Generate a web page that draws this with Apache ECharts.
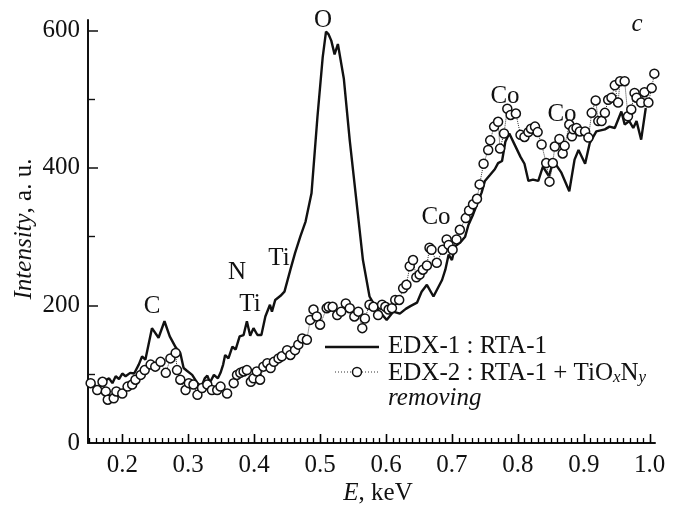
<!DOCTYPE html>
<html>
<head>
<meta charset="utf-8">
<script src="https://cdn.jsdelivr.net/npm/echarts@6/dist/echarts.min.js"></script>
<style>
html,body{margin:0;padding:0;background:#fff;}
#chart{width:674px;height:508px;}
</style>
</head>
<body>
<div id="chart"></div>
<script>
// ---- data (E in keV, intensity in a.u.) ----
const xTickLabels = [0.2, 0.3, 0.4, 0.5, 0.6, 0.7, 0.8, 0.9, 1.0];
const yTickLabels = [0, 200, 400, 600];
const yMinorTicks = [100, 300, 500];

// EDX-1 : RTA-1 (solid line)
const e1 = [0.149,0.158,0.165,0.172,0.180,0.185,0.190,0.195,0.200,0.205,0.212,0.218,0.225,0.230,0.235,0.245,0.255,0.264,0.272,0.281,0.288,0.293,0.298,0.306,0.314,0.320,0.325,0.329,0.333,0.339,0.345,0.349,0.353,0.356,0.361,0.367,0.372,0.378,0.384,0.389,0.394,0.399,0.405,0.411,0.417,0.424,0.427,0.432,0.440,0.446,0.455,0.462,0.470,0.478,0.487,0.496,0.504,0.509,0.513,0.517,0.522,0.527,0.536,0.545,0.555,0.565,0.575,0.581,0.591,0.601,0.611,0.621,0.630,0.637,0.647,0.654,0.662,0.672,0.685,0.690,0.695,0.700,0.705,0.712,0.720,0.725,0.732,0.738,0.745,0.750,0.758,0.765,0.770,0.776,0.781,0.787,0.794,0.804,0.810,0.816,0.823,0.831,0.838,0.847,0.854,0.866,0.878,0.886,0.892,0.902,0.909,0.919,0.932,0.939,0.947,0.957,0.962,0.969,0.975,0.980,0.987,0.994];
const i1 = [88,84,80,90,94,87,97,93,101,97,102,101,114,126,121,167,153,177,155,139,131,109,105,99,87,82,94,98,88,99,94,102,114,128,123,140,136,155,157,177,156,167,157,157,184,201,191,208,214,220,252,276,300,322,363,474,561,598,594,585,565,580,530,440,353,266,213,203,190,179,191,188,195,199,204,220,230,213,237,252,274,266,286,291,300,317,332,347,364,381,390,398,407,410,438,450,436,416,406,381,383,381,402,388,410,393,366,412,426,406,436,453,456,460,458,482,463,468,458,468,441,487];

// EDX-2 : RTA-1 + TiOxNy removing (circles, dotted)
const e2 = [0.152,0.162,0.170,0.175,0.178,0.187,0.191,0.200,0.208,0.215,0.220,0.228,0.234,0.243,0.250,0.258,0.266,0.273,0.281,0.283,0.288,0.296,0.301,0.308,0.314,0.321,0.329,0.336,0.344,0.349,0.359,0.369,0.374,0.379,0.384,0.389,0.395,0.399,0.404,0.409,0.414,0.420,0.425,0.430,0.437,0.442,0.450,0.455,0.462,0.467,0.473,0.480,0.485,0.490,0.495,0.500,0.510,0.513,0.519,0.526,0.532,0.539,0.545,0.552,0.558,0.564,0.568,0.575,0.581,0.588,0.594,0.599,0.604,0.609,0.614,0.620,0.626,0.631,0.636,0.641,0.646,0.651,0.656,0.662,0.666,0.669,0.677,0.686,0.692,0.695,0.701,0.707,0.712,0.721,0.726,0.732,0.738,0.742,0.748,0.755,0.758,0.764,0.770,0.773,0.779,0.784,0.789,0.797,0.804,0.810,0.816,0.820,0.826,0.830,0.836,0.843,0.848,0.853,0.856,0.863,0.868,0.871,0.878,0.882,0.884,0.889,0.894,0.902,0.907,0.912,0.918,0.922,0.927,0.932,0.937,0.942,0.947,0.952,0.955,0.962,0.967,0.972,0.977,0.980,0.987,0.992,0.998,1.003,1.007];
const i2 = [87,77,89,75,63,65,75,72,82,85,92,99,106,114,111,118,102,123,131,106,92,77,87,85,70,80,85,77,77,82,72,87,99,102,104,106,89,94,104,92,111,116,109,118,123,126,135,128,135,143,152,150,179,194,184,172,196,198,198,186,191,203,196,184,191,167,181,201,198,186,201,198,194,196,208,208,225,230,257,266,241,245,252,258,284,281,262,281,296,288,281,296,310,327,338,347,355,376,406,426,440,460,467,428,450,486,477,479,448,445,452,457,460,452,434,407,380,407,431,442,421,432,463,446,456,458,453,453,444,480,498,468,468,480,499,502,520,495,526,526,475,485,509,502,495,510,495,516,537];

// ---- build ----
const FONT = '"Liberation Serif","Times New Roman",serif';
const INK = '#111';
const X_MIN = 0.148, X_MAX = 1.008;
const data1 = e1.map((e, k) => [e, i1[k]]);
const data2 = e2.map((e, k) => [e, i2[k]]);
const xMinorTicks = [];
for (let k = 15; k <= 100; k++) { if (k % 10 !== 0) xMinorTicks.push(k / 100); }

const chart = echarts.init(document.getElementById('chart'), null, {renderer: 'canvas'});
const txt = (text, x, y, extra) => ({
  type: 'text', x: x, y: y,
  style: Object.assign({text: text, fill: INK, fontSize: 25, fontFamily: FONT, align: 'center', verticalAlign: 'middle'}, extra || {})
});

// custom series drawing x-axis ticks through the grid's scales
const tickSeries = (values, len, width) => ({
  type: 'custom', xAxisIndex: 0, yAxisIndex: 0, silent: true, clip: false, z: 10,
  data: values.map(v => [v, 0]),
  renderItem: function (params, api) {
    const p = api.coord([api.value(0), 0]);
    const x = Math.round(p[0]) + 0.5;
    return {type: 'line', shape: {x1: x, y1: p[1], x2: x, y2: p[1] - len},
      style: {stroke: '#000', lineWidth: width}};
  }
});

chart.setOption({
  animation: false,
  backgroundColor: '#fff',
  grid: {left: 88, right: 19, top: 20, bottom: 65, containLabel: false},
  xAxis: [{
    type: 'value', min: X_MIN, max: X_MAX, position: 'bottom',
    axisLine: {show: true, onZero: false, lineStyle: {color: INK, width: 2}},
    axisTick: {show: false},
    axisLabel: {show: true, customValues: xTickLabels, formatter: v => v.toFixed(1), fontSize: 25, fontFamily: FONT, color: INK, margin: 10},
    splitLine: {show: false}
  }],
  yAxis: [{
    type: 'value', min: 0, max: 615, position: 'left',
    axisLine: {show: true, onZero: false, lineStyle: {color: INK, width: 2}},
    axisTick: {show: true, inside: true, length: 10, customValues: yTickLabels, lineStyle: {color: INK, width: 1.5}},
    axisLabel: {show: true, customValues: yTickLabels, fontSize: 25, fontFamily: FONT, color: INK, margin: 8},
    splitLine: {show: false}
  }, {
    type: 'value', min: 0, max: 615, position: 'left',
    axisLine: {show: false, onZero: false},
    axisTick: {show: true, inside: true, length: 7, customValues: yMinorTicks, lineStyle: {color: INK, width: 1.4}},
    axisLabel: {show: false},
    splitLine: {show: false}
  }],
  series: [
    tickSeries(xTickLabels, 9, 1.6),
    tickSeries(xMinorTicks, 5, 1.3),
    {
      name: 'EDX-1 : RTA-1', type: 'line', xAxisIndex: 0, yAxisIndex: 0,
      data: data1, symbol: 'none', lineStyle: {color: INK, width: 2.4}, z: 2
    }, {
      name: 'EDX-2 : RTA-1 + TiOxNy removing', type: 'line', xAxisIndex: 0, yAxisIndex: 0,
      data: data2, symbol: 'circle', symbolSize: 9, showSymbol: true, clip: false,
      itemStyle: {color: '#fff', borderColor: INK, borderWidth: 1.5},
      lineStyle: {color: '#333', width: 1, type: 'dotted'}, z: 3
    }
  ],
  graphic: [
    // axis titles
    txt('{i|E}, keV', 378, 493, {rich: {i: {fontStyle: 'italic', fontSize: 25, fontFamily: FONT}}}),
    Object.assign(txt('{i|Intensity}, a. u.', 0, 0, {rich: {i: {fontStyle: 'italic', fontSize: 25, fontFamily: FONT}}}), {x: 24, y: 229, rotation: Math.PI / 2}),
    // peak annotations
    txt('O', 323, 20),
    txt('c', 637, 24, {fontStyle: 'italic'}),
    txt('C', 152, 306),
    txt('N', 237, 272),
    txt('Ti', 279, 258),
    txt('Ti', 250, 304),
    txt('Co', 436, 217),
    txt('Co', 505, 96),
    txt('Co', 562, 114),
    // legend
    {type: 'line', shape: {x1: 325, y1: 347, x2: 379, y2: 347}, style: {stroke: INK, lineWidth: 2.4}},
    {type: 'line', shape: {x1: 335, y1: 372, x2: 379, y2: 372}, style: {stroke: '#333', lineWidth: 1, lineDash: [1, 2]}},
    {type: 'circle', shape: {cx: 357, cy: 372, r: 4.5}, style: {fill: '#fff', stroke: INK, lineWidth: 1.5}},
    txt('EDX-1 : RTA-1', 388, 346, {align: 'left'}),
    txt('{n|EDX-2 : RTA-1 + TiO}{s|x}{n|N}{s|y}', 388, 371, {align: 'left', rich: {
      n: {fontSize: 25, fontFamily: FONT, lineHeight: 30, verticalAlign: 'bottom', fill: INK},
      s: {fontSize: 17, fontStyle: 'italic', fontFamily: FONT, lineHeight: 18, verticalAlign: 'bottom', fill: INK}
    }}),
    txt('removing', 388, 398, {align: 'left', fontStyle: 'italic'})
  ]
});
</script>
</body>
</html>
